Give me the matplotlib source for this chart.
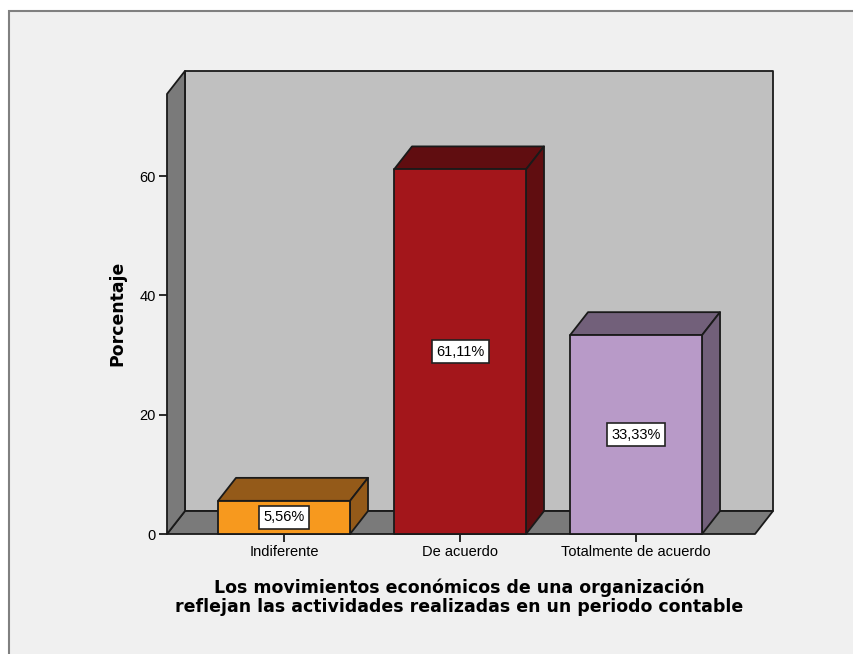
import matplotlib.pyplot as plt
from matplotlib.patches import Polygon, Rectangle

categories = ['Indiferente', 'De acuerdo', 'Totalmente de acuerdo']
percentages = [5.56, 61.11, 33.33]
front_colors = ['#F7991E', '#A3161B', '#B89AC8']
shade_colors = ['#945A19', '#600D10', '#72607A']
yticks = [0, 20, 40, 60]

# depth offset of the fake 3d effect, in data units
DX = 0.102
DY = 3.85
BAR_W = 0.75
X0, X1 = -0.665, 2.778
YMAX = 77.6


def poly(ax, pts, color, z=1):
    ax.add_patch(Polygon(pts, closed=True, facecolor=color, edgecolor='#1a1a1a',
                         linewidth=1.3, zorder=z, clip_on=False, joinstyle='round'))


fig = plt.figure(figsize=(8.54, 6.54), dpi=100)
fig.patch.set_facecolor('white')
fig.add_artist(Rectangle((9 / 854, -0.05), 1.0, 1 - 11 / 654 + 0.05, transform=fig.transFigure,
                         facecolor='#F0F0F0', edgecolor='#808080', linewidth=1.5, zorder=0))

ax = fig.add_axes([167 / 854, 120 / 654, 606 / 854, 463 / 654])
ax.set_xlim(X0, X1)
ax.set_ylim(0, YMAX)
ax.patch.set_visible(False)
for s in ax.spines.values():
    s.set_visible(False)

front_r = X1 - DX
top = YMAX - DY
# back wall, floor, left wall
poly(ax, [(X0 + DX, DY), (X1, DY), (X1, YMAX), (X0 + DX, YMAX)], '#C0C0C0', 1)
poly(ax, [(X0, 0), (front_r, 0), (X1, DY), (X0 + DX, DY)], '#7A7A7A', 2)
poly(ax, [(X0, 0), (X0 + DX, DY), (X0 + DX, YMAX), (X0, top)], '#7A7A7A', 2)

for i, (v, fc, sc) in enumerate(zip(percentages, front_colors, shade_colors)):
    l, r = i - BAR_W / 2, i + BAR_W / 2
    poly(ax, [(l, v), (r, v), (r + DX, v + DY), (l + DX, v + DY)], sc, 3)
    poly(ax, [(r, 0), (r + DX, DY), (r + DX, v + DY), (r, v)], sc, 3)
    poly(ax, [(l, 0), (r, 0), (r, v), (l, v)], fc, 4)
    ax.text(i, v / 2, f'{v:.2f}'.replace('.', ',') + '%', ha='center', va='center',
            fontsize=10.5, family='Liberation Sans', zorder=6,
            bbox=dict(boxstyle='square,pad=0.3', facecolor='white', edgecolor='#222222', linewidth=1.2))

ax.set_yticks(yticks)
ax.set_xticks(range(len(categories)))
ax.set_xticklabels(categories)
ax.tick_params(axis='both', length=6, width=1.3, color='#1a1a1a', labelsize=10.5, pad=2)
for lab in ax.get_xticklabels() + ax.get_yticklabels():
    lab.set_family('Liberation Sans')

fig.text(117 / 854, 1 - 313 / 654, 'Porcentaje', rotation=90, ha='center', va='center',
         fontsize=12.4, fontweight='bold')
fig.text(459 / 854, 1 - 597 / 654,
         'Los movimientos económicos de una organización\nreflejan las actividades realizadas en un periodo contable',
         ha='center', va='center', fontsize=12.5, fontweight='bold', linespacing=1.1)

fig.savefig('out.png', dpi=100, facecolor=fig.get_facecolor())
